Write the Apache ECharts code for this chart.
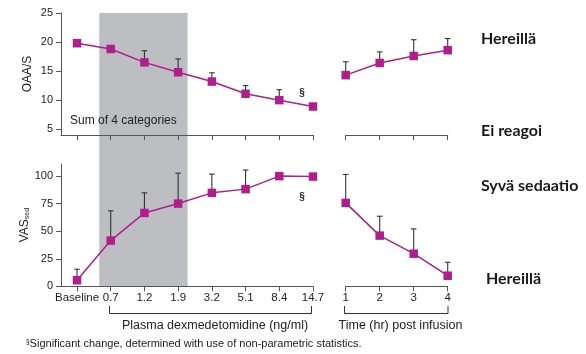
<!DOCTYPE html>
<html><head><meta charset="utf-8">
<script src="https://cdn.jsdelivr.net/npm/echarts@6/dist/echarts.min.js"></script>
<style>html,body{margin:0;padding:0;background:#fff}#c{width:586px;height:354px}</style>
</head><body><div id="c"></div>
<script>
// ---- data ----
const concLabels = ['Baseline', '0.7', '1.2', '1.9', '3.2', '5.1', '8.4', '14.7'];
const timeLabels = ['1', '2', '3', '4'];
const oaasInfusion = [19.8, 18.8, 16.5, 14.8, 13.2, 11.1, 10.0, 8.9];
const oaasInfusionUpper = [null, null, 18.5, 17.1, 14.7, 12.5, 11.8, null];
const oaasPost = [14.3, 16.4, 17.6, 18.6];
const oaasPostUpper = [16.6, 18.3, 20.4, 20.6];
const vasInfusion = [5.5, 41.5, 66.6, 75.1, 84.8, 88.2, 100, 99.6];
const vasInfusionUpper = [15.5, 68.5, 84.8, 102.7, 101.8, 105.5, null, null];
const vasPost = [75.7, 46.0, 29.6, 9.6];
const vasPostUpper = [101.5, 63.6, 52.1, 21.8];
const oaasTicks = [5, 10, 15, 20, 25];
const vasTicks = [0, 25, 50, 75, 100];
const shadedRange = [0.66, 3.28]; // in concentration-category index units

// ---- styles ----
const MAG = '#b01e8e';
const FONT = 'Liberation Sans, Arial, sans-serif';
const AX = '#555';

const chart = echarts.init(document.getElementById('c'));

function pts(xs, ys) { return ys.map((v, i) => [xs[i], v]); }
const concIdx = concLabels.map((_, i) => i);
const timeVals = timeLabels.map(Number);
function errData(xs, ys, ups) {
  const out = [];
  ys.forEach((v, i) => { if (ups[i] != null) out.push([xs[i], v, ups[i]]); });
  return out;
}
function errRender(params, api) {
  const x = api.value(0), y = api.value(1), hi = api.value(2);
  const p0 = api.coord([x, y]), p1 = api.coord([x, hi]);
  const st = { stroke: '#333', lineWidth: 1.1 };
  return { type: 'group', children: [
    { type: 'line', shape: { x1: p0[0], y1: p0[1], x2: p1[0], y2: p1[1] }, style: st },
    { type: 'line', shape: { x1: p1[0] - 2.8, y1: p1[1], x2: p1[0] + 2.8, y2: p1[1] }, style: st }
  ]};
}
function lineSeries(xi, yi, data) {
  return { type: 'line', xAxisIndex: xi, yAxisIndex: yi, data: data, symbol: 'rect', symbolSize: 8.5,
    itemStyle: { color: MAG }, lineStyle: { color: MAG, width: 1.5 }, z: 5, animation: false };
}
function errSeries(xi, yi, data) {
  return { type: 'custom', xAxisIndex: xi, yAxisIndex: yi, data: data, renderItem: errRender, z: 3, animation: false };
}

const L = 61, LW = 252, R = 345.7, RW = 102;
const T1 = 13, H1 = 122, T2 = 164, H2 = 122.3;

const grids = [
  { left: L, top: T1, width: LW, height: H1 },
  { left: R, top: T1, width: RW, height: H1 },
  { left: L, top: T2, width: LW, height: H2 },
  { left: R, top: T2, width: RW, height: H2 },
  { left: L, top: T1, width: LW, height: T2 + H2 - T1 }
].map(g => Object.assign({ containLabel: false, outerBoundsMode: 'none' }, g));

function axLine() { return { show: true, onZero: false, lineStyle: { color: AX, width: 1 } }; }

function concX(gi, labels) {
  return { type: 'value', gridIndex: gi, min: -0.475, max: 7, axisLine: axLine(),
    axisTick: { show: true, length: 5, customValues: concIdx, lineStyle: { color: AX, width: 1 } }, splitLine: { show: false },
    axisLabel: { show: labels, customValues: concIdx, formatter: v => concLabels[Math.round(v)],
      fontFamily: FONT, fontSize: 11.5, color: '#222', margin: 6 } };
}
function timeX(gi, labels) {
  return { type: 'value', gridIndex: gi, min: 1, max: 4, interval: 1, axisLine: axLine(),
    axisTick: { show: true, length: 5, lineStyle: { color: AX, width: 1 } }, splitLine: { show: false },
    axisLabel: { show: labels, formatter: v => timeLabels[Math.round(v) - 1],
      fontFamily: FONT, fontSize: 11.5, color: '#222', margin: 6 } };
}
function yAx(gi, min, max, ticks, show, name) {
  return { type: 'value', gridIndex: gi, min: min, max: max, show: show, position: 'left',
    axisLine: axLine(),
    axisTick: { show: true, inside: false, length: 5, customValues: ticks, lineStyle: { color: AX, width: 1 } },
    splitLine: { show: false },
    axisLabel: { customValues: ticks, fontFamily: FONT, fontSize: 11, color: '#222', margin: 8 },
    name: name, nameLocation: 'middle', nameGap: 27,
    nameTextStyle: { fontFamily: FONT, fontSize: 12, color: '#222',
      rich: { a: { fontFamily: FONT, fontSize: 12, color: '#222' },
              b: { fontFamily: FONT, fontSize: 7, color: '#222', verticalAlign: 'bottom', padding: [4, 0, 0, 0] } } } };
}

const option = {
  animation: false,
  grid: grids,
  xAxis: [
    concX(0, false), timeX(1, false), concX(2, true), timeX(3, true),
    { type: 'value', gridIndex: 4, min: -0.475, max: 7, show: false }
  ],
  yAxis: [
    yAx(0, 4, 25, oaasTicks, true, 'OAA/S'),
    yAx(1, 4, 25, oaasTicks, false, ''),
    yAx(2, 0, 111, vasTicks, true, '{a|VAS}{b|sed}'),
    yAx(3, 0, 111, vasTicks, false, ''),
    { type: 'value', gridIndex: 4, min: 0, max: 1, show: false }
  ],
  series: [
    { type: 'custom', xAxisIndex: 4, yAxisIndex: 4, z: -1, silent: true, data: [shadedRange],
      renderItem: (p, api) => {
        const a = api.coord([api.value(0), 1]), b = api.coord([api.value(1), 0]);
        return { type: 'rect', shape: { x: a[0], y: a[1], width: b[0] - a[0], height: b[1] - a[1] },
          style: { fill: '#bdbec1' } };
      } },
    errSeries(0, 0, errData(concIdx, oaasInfusion, oaasInfusionUpper)),
    lineSeries(0, 0, pts(concIdx, oaasInfusion)),
    errSeries(1, 1, errData(timeVals, oaasPost, oaasPostUpper)),
    lineSeries(1, 1, pts(timeVals, oaasPost)),
    errSeries(2, 2, errData(concIdx, vasInfusion, vasInfusionUpper)),
    lineSeries(2, 2, pts(concIdx, vasInfusion)),
    errSeries(3, 3, errData(timeVals, vasPost, vasPostUpper)),
    lineSeries(3, 3, pts(timeVals, vasPost))
  ],
  graphic: [
    { type: 'text', left: 70, top: 115, z: 10, style: { text: 'Sum of 4 categories', font: '12px ' + FONT, fill: '#222' } },
    { type: 'text', x: 302, y: 93, z: 10, style: { text: '§', font: 'bold 10px ' + FONT, fill: '#222', align: 'center', verticalAlign: 'middle' } },
    { type: 'text', x: 302, y: 197, z: 10, style: { text: '§', font: 'bold 10px ' + FONT, fill: '#222', align: 'center', verticalAlign: 'middle' } },
    { type: 'polyline', z: 10, shape: { points: [[109.5, 306], [109.5, 313.5], [311.5, 313.5], [311.5, 306]] }, style: { stroke: '#333', lineWidth: 1, fill: null } },
    { type: 'polyline', z: 10, shape: { points: [[344.5, 306], [344.5, 313.5], [448, 313.5], [448, 306]] }, style: { stroke: '#333', lineWidth: 1, fill: null } },
    { type: 'text', x: 215, y: 326, z: 10, style: { text: 'Plasma dexmedetomidine (ng/ml)', font: '12.5px ' + FONT, fill: '#222', align: 'center', verticalAlign: 'middle' } },
    { type: 'text', x: 400.5, y: 326, z: 10, style: { text: 'Time (hr) post infusion', font: '12.5px ' + FONT, fill: '#222', align: 'center', verticalAlign: 'middle' } },
    { type: 'text', x: 26, y: 344, z: 10, style: { text: '{s|§}{t|Significant change, determined with use of non-parametric statistics.}', verticalAlign: 'middle',
        rich: { s: { fontFamily: FONT, fontSize: 6.5, fill: '#222', verticalAlign: 'top' }, t: { fontFamily: FONT, fontSize: 11, fill: '#222' } } } },
    { type: 'text', x: 481, y: 39, z: 10, style: { text: 'Hereillä', font: 'bold 16px Lato, sans-serif', fill: '#1a1a1a', verticalAlign: 'middle' } },
    { type: 'text', x: 481, y: 131, z: 10, style: { text: 'Ei reagoi', font: 'bold 16px Lato, sans-serif', fill: '#1a1a1a', verticalAlign: 'middle' } },
    { type: 'text', x: 481, y: 186, z: 10, style: { text: 'Syvä sedaatio', font: 'bold 16px Lato, sans-serif', fill: '#1a1a1a', verticalAlign: 'middle' } },
    { type: 'text', x: 486, y: 279, z: 10, style: { text: 'Hereillä', font: 'bold 16px Lato, sans-serif', fill: '#1a1a1a', verticalAlign: 'middle' } }
  ]
};
chart.setOption(option);
</script></body></html>
